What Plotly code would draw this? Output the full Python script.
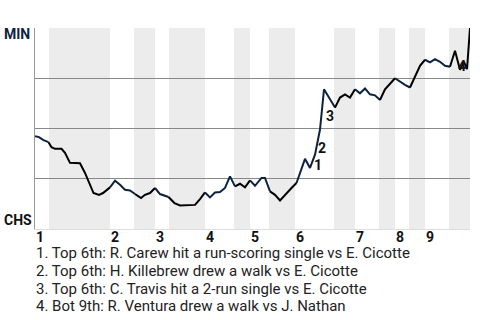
import plotly.graph_objects as go

# ---- data (event index, MIN win probability %) ----
event_x = [0, 0.8, 1.7, 2.7, 3.3, 4, 5.3, 6, 7, 9, 10, 11.7, 12.8, 13.6, 15, 16, 17, 18, 19, 20,
           21.2, 22, 23, 24, 25, 26.7, 27.9, 29, 30, 32, 33, 34, 35, 36, 37, 38, 39, 40, 41, 42,
           43, 44, 45.3, 46, 47, 48, 49, 50.3, 51.3, 52.3, 53.3, 54, 55, 56, 57, 57.8, 60, 61, 62, 63,
           64, 65, 66, 67, 68, 69, 70, 72, 73, 74, 75, 76, 77, 78, 79, 80, 81, 82, 83, 84,
           85, 85.8, 86.4, 87]
min_wp = [46.2, 45.7, 44.2, 43.2, 40.7, 39.9, 39.9, 37.9, 32.9, 32.7, 27.9, 17.9, 17.0, 17.9, 20.7, 24.0, 22.0, 19.5, 19.2, 17.4,
          15.4, 17.0, 17.9, 20.4, 17.4, 15.9, 12.9, 11.7, 11.9, 12.0, 14.9, 18.2, 15.7, 18.2, 18.4, 20.4, 26.2, 21.2, 22.5, 20.7,
          24.2, 21.5, 25.4, 25.4, 18.7, 17.0, 14.2, 17.9, 20.4, 22.9, 29.5, 34.9, 30.4, 37.0, 49.5, 69.5, 60.4, 65.4, 67.0, 65.4,
          69.5, 67.5, 69.9, 67.0, 66.5, 64.2, 69.5, 75.0, 73.2, 71.7, 70.4, 76.2, 81.2, 84.2, 82.9, 84.5, 83.2, 81.2, 80.7, 88.7,
          79.2, 83.2, 79.5, 100.0]

inning_labels = ["1", "2", "3", "4", "5", "6", "7", "8", "9"]
inning_start = [0, 15, 24, 34, 43, 52, 64, 72, 78]
bottom_start = [2.8, 19.8, 26.8, 39.8, 46.8, 59.8, 68.8, 74.8, 82.8]
game_end = 87

team_top = "MIN"
team_bottom = "CHS"

key_events = ["1. Top 6th: R. Carew hit a run-scoring single vs E. Cicotte",
              "2. Top 6th: H. Killebrew drew a walk vs E. Cicotte",
              "3. Top 6th: C. Travis hit a 2-run single vs E. Cicotte",
              "4. Bot 9th: R. Ventura drew a walk vs J. Nathan"]
event_marker_idx = [52, 53, 54, 81]
event_marker_shift = [(8, 3), (7, 7), (10, 14), (-2, -4)]

NAVY = "#0c2340"
BLACK = "#000000"

fig = go.Figure()

# bands for bottom halves
ends = inning_start[1:] + [game_end]
for b, e in zip(bottom_start, ends):
    fig.add_shape(type="rect", xref="x", yref="y", x0=b, x1=e, y0=0, y1=100,
                  fillcolor="#ececec", line_width=0, layer="below")

def is_bottom(x):
    for b, e in zip(bottom_start, ends):
        if b <= x < e:
            return True
    return False

# colour segments by half inning
segs = []
cur = None
for i in range(len(event_x) - 1):
    mid = (event_x[i] + event_x[i + 1]) / 2
    col = BLACK if is_bottom(mid) else NAVY
    if cur is None or cur[0] != col:
        cur = [col, [event_x[i]], [min_wp[i]]]
        segs.append(cur)
    cur[1].append(event_x[i + 1])
    cur[2].append(min_wp[i + 1])

for col, xs, ys in segs:
    fig.add_trace(go.Scatter(x=xs, y=ys, mode="lines",
                             line=dict(color=col, width=2), hoverinfo="skip",
                             showlegend=False))

# event markers
for k, (idx, (dx, dy)) in enumerate(zip(event_marker_idx, event_marker_shift)):
    fig.add_annotation(x=event_x[idx], y=min_wp[idx], text=str(k + 1), showarrow=False,
                       xshift=dx, yshift=dy, borderpad=0,
                       font=dict(family="Roboto", size=14, color="#111111", weight="bold"))

# inning labels
for lab, s in zip(inning_labels, inning_start):
    fig.add_annotation(x=s, y=0, xref="x", yref="y", text=lab, showarrow=False,
                       xanchor="left", yanchor="top", xshift=0, yshift=1, borderpad=0,
                       font=dict(family="Roboto", size=14, color="#111111", weight="bold"))

# team labels
left_px = 3 / 435 - 35 / 435
fig.add_annotation(x=left_px, y=100, xref="paper", yref="y", text=team_top, showarrow=False,
                   xanchor="left", yanchor="middle", yshift=-6, borderpad=0,
                   font=dict(family="Roboto", size=14, color=NAVY, weight="bold"))
fig.add_annotation(x=left_px, y=0, xref="paper", yref="y", text=team_bottom, showarrow=False,
                   xanchor="left", yanchor="middle", yshift=9, borderpad=0,
                   font=dict(family="Roboto", size=14, color="#111111", weight="bold"))

# key event notes
for k, txt in enumerate(key_events):
    fig.add_annotation(x=0, y=0, xref="x", yref="y", text=txt, showarrow=False,
                       xanchor="left", yanchor="middle", yshift=-24 - 17.8 * k, borderpad=0,
                       font=dict(family="Roboto", size=15, color="#222222"))

fig.update_layout(
    width=480, height=320,
    margin=dict(l=35, r=10, t=28, b=91),
    plot_bgcolor="white", paper_bgcolor="white",
    xaxis=dict(range=[0, game_end], showgrid=False, showticklabels=False, zeroline=False,
               showline=True, linecolor="#dddddd", linewidth=1, ticks=""),
    yaxis=dict(range=[0, 100], tickvals=[25, 50, 75, 100], showgrid=True, gridcolor="#888888",
               gridwidth=1, showticklabels=False, zeroline=False, showline=True,
               linecolor="#999999", linewidth=1, ticks=""),
)

fig.write_html("out.html")
